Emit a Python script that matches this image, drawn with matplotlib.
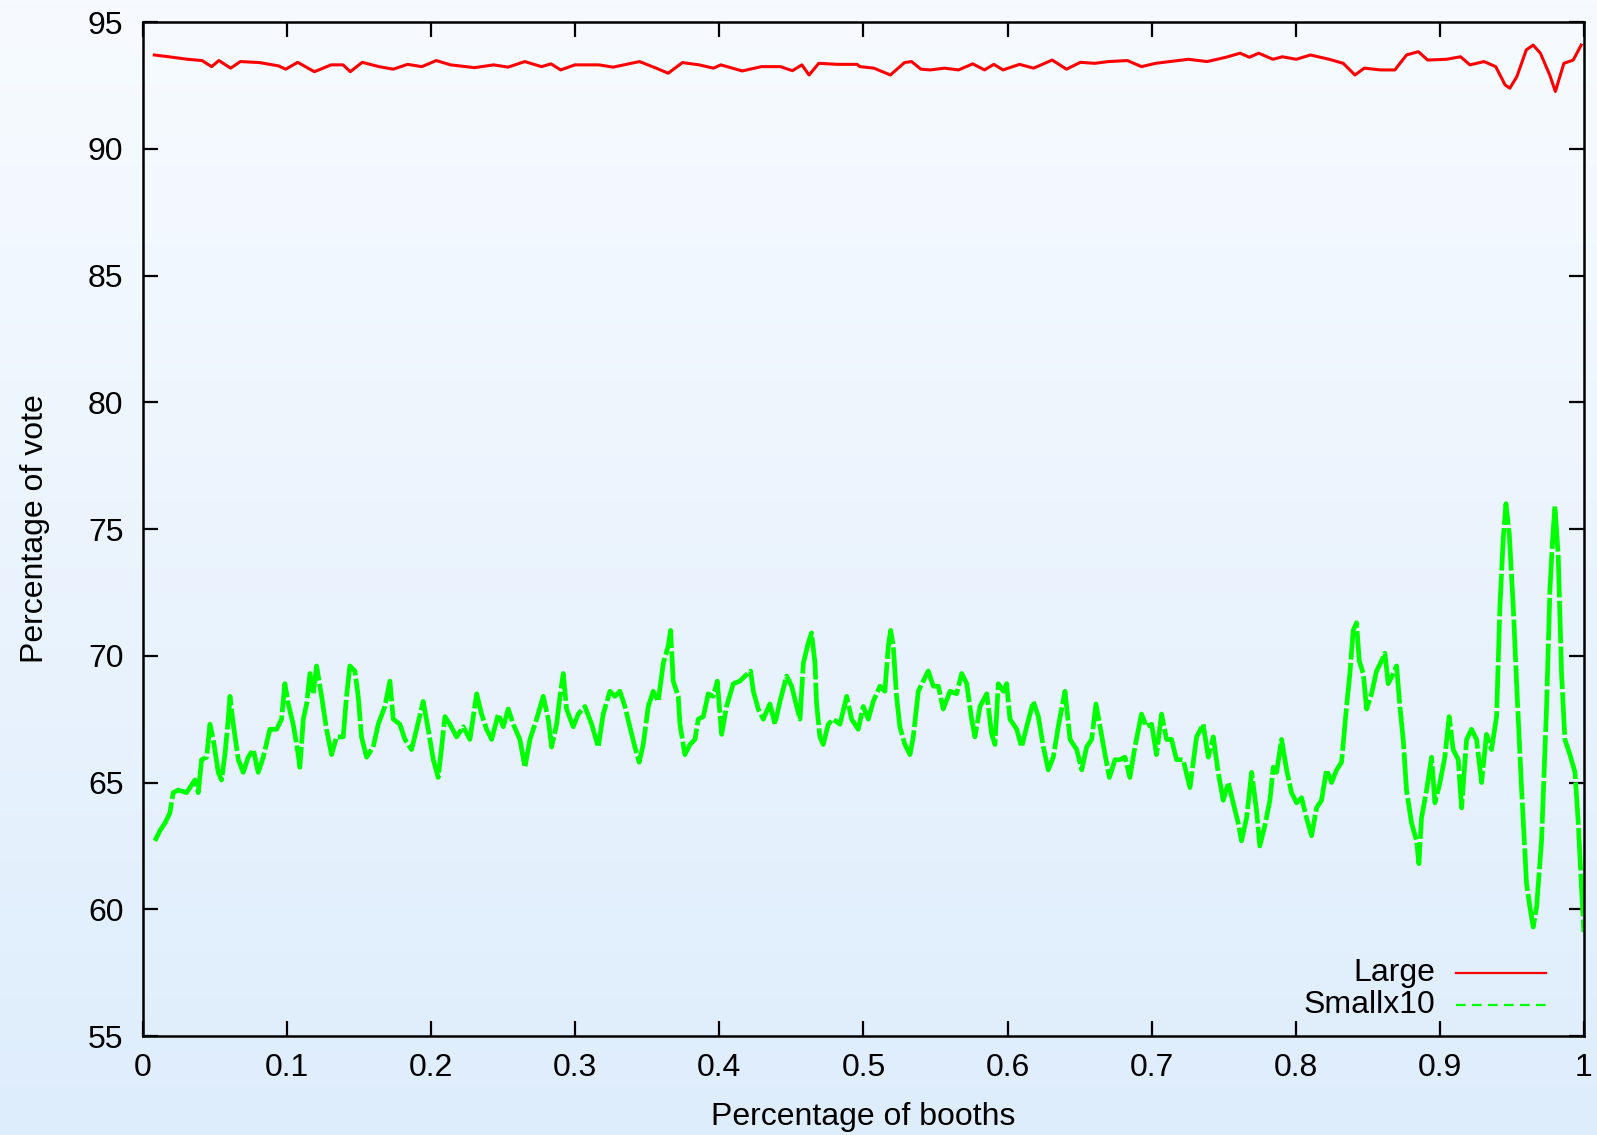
import numpy as np
import matplotlib
matplotlib.use("Agg")
import matplotlib.pyplot as plt

# values (x = fraction of booths, y = % of vote)
large_x = [0.0079, 0.0178, 0.0311, 0.0410, 0.0477, 0.0527, 0.0609, 0.0676, 0.0809, 0.0941,
           0.0991, 0.1074, 0.1190, 0.1306, 0.1389, 0.1439, 0.1522, 0.1638, 0.1737, 0.1837,
           0.1936, 0.2036, 0.2135, 0.2301, 0.2434, 0.2534, 0.2650, 0.2766, 0.2832, 0.2899,
           0.2998, 0.3164, 0.3263, 0.3446, 0.3562, 0.3645, 0.3744, 0.3860, 0.3960, 0.4010,
           0.4159, 0.4292, 0.4424, 0.4507, 0.4573, 0.4623, 0.4690, 0.4822, 0.4955,
           0.4976, 0.5073, 0.5187, 0.5285, 0.5334, 0.5399, 0.5464, 0.5562, 0.5660, 0.5759,
           0.5840, 0.5905, 0.5969, 0.6083, 0.6181, 0.6310, 0.6409, 0.6506, 0.6604, 0.6701,
           0.6832, 0.6930, 0.7027, 0.7125, 0.7255, 0.7385, 0.7516, 0.7614, 0.7678, 0.7743,
           0.7842, 0.7907, 0.8004, 0.8102, 0.8232, 0.8330, 0.8411, 0.8476, 0.8590, 0.8688,
           0.8769, 0.8851, 0.8916, 0.9046, 0.9144, 0.9209, 0.9307, 0.9388, 0.9453, 0.9486,
           0.9535, 0.9600, 0.9648, 0.9698, 0.9763, 0.9802, 0.9861, 0.9926, 0.9981]
large_y = [93.70, 93.63, 93.53, 93.48, 93.24, 93.48, 93.18, 93.44, 93.40, 93.27,
           93.14, 93.41, 93.04, 93.31, 93.31, 93.04, 93.41, 93.24, 93.14, 93.33,
           93.24, 93.48, 93.31, 93.20, 93.31, 93.22, 93.44, 93.24, 93.35, 93.11,
           93.31, 93.31, 93.22, 93.44, 93.18, 92.98, 93.40, 93.31, 93.18, 93.31,
           93.07, 93.24, 93.24, 93.08, 93.31, 92.91, 93.37, 93.33, 93.33,
           93.24, 93.18, 92.91, 93.40, 93.44, 93.14, 93.11, 93.18, 93.11, 93.35,
           93.11, 93.33, 93.11, 93.33, 93.18, 93.50, 93.14, 93.41, 93.37, 93.44,
           93.48, 93.24, 93.37, 93.44, 93.53, 93.44, 93.61, 93.77, 93.61, 93.77,
           93.53, 93.63, 93.53, 93.70, 93.53, 93.37, 92.91, 93.18, 93.11, 93.11,
           93.70, 93.83, 93.50, 93.53, 93.63, 93.31, 93.44, 93.24, 92.52, 92.39,
           92.85, 93.90, 94.09, 93.77, 92.91, 92.26, 93.37, 93.50, 94.09]

small_x = [0.0083, 0.0118, 0.0153, 0.0187, 0.0210, 0.0245, 0.0303, 0.0361, 0.0384, 0.0407,
           0.0442, 0.0465, 0.0488, 0.0523, 0.0546, 0.0569, 0.0592, 0.0604, 0.0627, 0.0662,
           0.0696, 0.0731, 0.0766, 0.0800, 0.0835, 0.0881, 0.0928, 0.0962, 0.0985, 0.1009,
           0.1043, 0.1078, 0.1089, 0.1113, 0.1136, 0.1159, 0.1182, 0.1205, 0.1240, 0.1274,
           0.1309, 0.1344, 0.1390, 0.1413, 0.1436, 0.1471, 0.1494, 0.1517, 0.1552, 0.1598,
           0.1633, 0.1679, 0.1714, 0.1737, 0.1783, 0.1818, 0.1864, 0.1899, 0.1945, 0.1980,
           0.2015, 0.2049, 0.2073, 0.2096, 0.2130, 0.2177, 0.2223, 0.2269, 0.2316, 0.2350,
           0.2385, 0.2420, 0.2466, 0.2501, 0.2535, 0.2570, 0.2616, 0.2651, 0.2686, 0.2732,
           0.2778, 0.2813, 0.2836, 0.2871, 0.2894, 0.2917, 0.2940, 0.2986, 0.3021, 0.3067,
           0.3114, 0.3160, 0.3194, 0.3241, 0.3275,
           0.3310, 0.3345, 0.3379, 0.3414, 0.3444, 0.3472, 0.3507, 0.3541, 0.3576, 0.3611,
           0.3646, 0.3662, 0.3680, 0.3715, 0.3727, 0.3761, 0.3796, 0.3831, 0.3854, 0.3889,
           0.3923, 0.3958, 0.3986, 0.4016, 0.4050, 0.4097, 0.4143, 0.4178, 0.4217, 0.4236,
           0.4270, 0.4305, 0.4351, 0.4386, 0.4421, 0.4467, 0.4502, 0.4537, 0.4560, 0.4583,
           0.4617, 0.4640, 0.4664, 0.4675, 0.4698, 0.4721, 0.4756, 0.4791, 0.4837, 0.4884,
           0.4918, 0.4964, 0.4999, 0.5034, 0.5068, 0.5115, 0.5149, 0.5173, 0.5189, 0.5207,
           0.5230, 0.5253, 0.5288, 0.5323, 0.5346, 0.5381, 0.5415, 0.5450, 0.5485, 0.5520,
           0.5554, 0.5601, 0.5647, 0.5682, 0.5717, 0.5751, 0.5774, 0.5809, 0.5856, 0.5890,
           0.5913, 0.5936, 0.5971, 0.5994, 0.6017, 0.6064, 0.6098, 0.6133, 0.6179, 0.6214,
           0.6249, 0.6283, 0.6318, 0.6352, 0.6399, 0.6434, 0.6480, 0.6515, 0.6549, 0.6584,
           0.6614, 0.6642, 0.6677, 0.6707, 0.6746,
           0.6780, 0.6815, 0.6849, 0.6884, 0.6930, 0.6965, 0.7000, 0.7034, 0.7069, 0.7104,
           0.7138, 0.7173, 0.7219, 0.7266, 0.7312, 0.7358, 0.7393, 0.7428, 0.7462, 0.7497,
           0.7532, 0.7566, 0.7601, 0.7624, 0.7659, 0.7694, 0.7728, 0.7751, 0.7786, 0.7821,
           0.7844, 0.7867, 0.7902, 0.7937, 0.7971, 0.8006, 0.8041, 0.8075, 0.8110, 0.8145,
           0.8179, 0.8214, 0.8249, 0.8284, 0.8318, 0.8353, 0.8376, 0.8399, 0.8422, 0.8441,
           0.8469, 0.8492, 0.8526, 0.8561, 0.8596, 0.8619, 0.8642, 0.8677, 0.8700, 0.8723,
           0.8746, 0.8769, 0.8804, 0.8839, 0.8855, 0.8873, 0.8908, 0.8943, 0.8966, 0.9001,
           0.9035, 0.9065, 0.9093, 0.9128, 0.9151, 0.9186, 0.9220, 0.9255, 0.9290, 0.9324,
           0.9359, 0.9394, 0.9417, 0.9440, 0.9459, 0.9482, 0.9510, 0.9537, 0.9568, 0.9602,
           0.9625, 0.9648, 0.9672, 0.9706, 0.9741, 0.9764, 0.9783, 0.9799, 0.9822, 0.9845,
           0.9868, 0.9903, 0.9938, 0.9961, 0.9984, 1.0000]
small_y = [62.7, 63.1, 63.4, 63.8, 64.6, 64.7, 64.6, 65.1, 64.6, 65.9,
           66.0, 67.3, 66.7, 65.4, 65.1, 66.1, 67.5, 68.4, 67.3, 65.9,
           65.4, 66.0, 66.3, 65.4, 66.0, 67.1, 67.1, 67.5, 68.9, 68.1,
           67.3, 66.1, 65.6, 67.5, 68.1, 69.3, 68.5, 69.6, 68.4, 67.1,
           66.1, 66.8, 66.8, 68.4, 69.6, 69.4, 68.4, 66.8, 66.0, 66.4,
           67.3, 68.0, 69.0, 67.5, 67.3, 66.7, 66.3, 67.1, 68.2, 67.1,
           65.9, 65.2, 66.4, 67.6, 67.3, 66.8, 67.2, 66.7, 68.5, 67.7,
           67.1, 66.7, 67.7, 67.2, 67.9, 67.3, 66.7, 65.6, 66.7, 67.5,
           68.4, 67.5, 66.4, 67.3, 68.4, 69.3, 67.9, 67.2, 67.7, 68.0,
           67.3, 66.4, 67.7, 68.6, 68.4,
           68.6, 68.0, 67.2, 66.4, 65.8, 66.5, 68.0, 68.6, 68.2, 69.7,
           70.4, 71.0, 69.0, 68.4, 67.3, 66.1, 66.5, 66.7, 67.5, 67.6,
           68.5, 68.4, 69.0, 66.9, 68.0, 68.9, 69.0, 69.2, 69.4, 68.6,
           67.9, 67.5, 68.1, 67.3, 68.2, 69.2, 68.8, 68.0, 67.5, 69.7,
           70.5, 70.9, 69.7, 68.1, 66.8, 66.5, 67.3, 67.5, 67.3, 68.4,
           67.5, 67.1, 68.0, 67.5, 68.2, 68.8, 68.6, 70.4, 71.0, 70.4,
           68.4, 67.2, 66.5, 66.1, 66.8, 68.6, 69.0, 69.4, 68.8, 68.8,
           67.9, 68.6, 68.5, 69.3, 68.9, 67.5, 66.8, 68.0, 68.5, 66.9,
           66.5, 68.9, 68.6, 68.9, 67.5, 67.1, 66.4, 67.2, 68.2, 67.6,
           66.4, 65.5, 66.0, 67.2, 68.6, 66.7, 66.3, 65.5, 66.4, 66.7,
           68.1, 67.2, 66.1, 65.2, 65.9,
           65.9, 66.0, 65.2, 66.4, 67.7, 67.2, 67.3, 66.1, 67.7, 66.7,
           66.7, 65.9, 65.9, 64.8, 66.8, 67.3, 66.0, 66.8, 65.4, 64.3,
           65.0, 64.2, 63.4, 62.7, 63.6, 65.4, 63.9, 62.5, 63.3, 64.3,
           65.6, 65.4, 66.7, 65.5, 64.6, 64.2, 64.4, 63.6, 62.9, 64.0,
           64.3, 65.5, 65.0, 65.5, 65.8, 68.0, 69.3, 71.0, 71.3, 69.8,
           69.3, 67.9, 68.5, 69.4, 69.8, 70.1, 68.9, 69.3, 69.6, 68.0,
           66.7, 64.7, 63.4, 62.7, 61.8, 63.6, 64.7, 66.0, 64.2, 65.0,
           66.0, 67.6, 66.3, 65.9, 64.0, 66.7, 67.1, 66.7, 65.0, 66.9,
           66.3, 67.6, 71.9, 74.6, 76.0, 74.8, 71.9, 68.4, 64.7, 61.0,
           60.1, 59.3, 60.1, 62.7, 68.0, 72.6, 74.6, 75.9, 73.9, 69.3,
           66.7, 66.1, 65.4, 63.4, 60.8, 59.1]

x_ticks = [0, 0.1, 0.2, 0.3, 0.4, 0.5, 0.6, 0.7, 0.8, 0.9, 1]
x_tick_labels = ["0", "0.1", "0.2", "0.3", "0.4", "0.5", "0.6", "0.7", "0.8", "0.9", "1"]
y_ticks = [55, 60, 65, 70, 75, 80, 85, 90, 95]
series_names = ["Large", "Smallx10"]

plt.rcParams['font.family'] = ['Liberation Sans', 'DejaVu Sans']
FS = 23

fig = plt.figure(figsize=(15.97, 11.35), dpi=100)

# light vertical gradient behind everything
bg = fig.add_axes([0, 0, 1, 1], zorder=-10)
top = np.array([247, 251, 255]) / 255
bottom = np.array([222, 237, 252]) / 255
t = np.linspace(0, 1, 256)[:, None]
grad = top + (bottom - top) * t
bg.imshow(grad[:, None, :], aspect='auto', extent=[0, 1, 0, 1])
bg.axis('off')

ax = fig.add_axes([0.0895, 0.0872, 0.9023, 0.8934])
ax.set_facecolor('none')

ax.plot(large_x, large_y, color='#ff0000', lw=2.2)
ax.plot(small_x, small_y, color='#00ff00', lw=3.4, linestyle=(0, (9, 0.7)))

ax.set_xlim(0, 1)
ax.set_ylim(55, 95)
ax.set_xticks(x_ticks)
ax.set_xticklabels(x_tick_labels)
ax.set_yticks(y_ticks)
ax.tick_params(direction='in', length=10.5, width=1.6, top=True, right=True,
               labelsize=FS, colors='black')
ax.tick_params(axis='x', pad=12)
ax.tick_params(axis='y', pad=14)
for s in ax.spines.values():
    s.set_linewidth(1.8)

ax.set_xlabel("Percentage of booths", fontsize=FS, labelpad=14)
ax.set_ylabel("Percentage of vote", fontsize=FS, labelpad=27)

# gnuplot-style key: right-aligned names, sample line on the right
key_rows = [0.0621, 0.0306]
key_dash = (0, (4.3, 2.9))
ax.text(0.8966, key_rows[0], series_names[0], transform=ax.transAxes,
        ha='right', va='center', fontsize=FS)
ax.plot([0.9112, 0.9736], [key_rows[0]] * 2, transform=ax.transAxes,
        color='#ff0000', lw=1.6)
ax.text(0.8966, key_rows[1], series_names[1], transform=ax.transAxes,
        ha='right', va='center', fontsize=FS)
ax.plot([0.9112, 0.9736], [key_rows[1]] * 2, transform=ax.transAxes,
        color='#00ff00', lw=1.6, linestyle=key_dash)

fig.savefig("out.png", dpi=100)
